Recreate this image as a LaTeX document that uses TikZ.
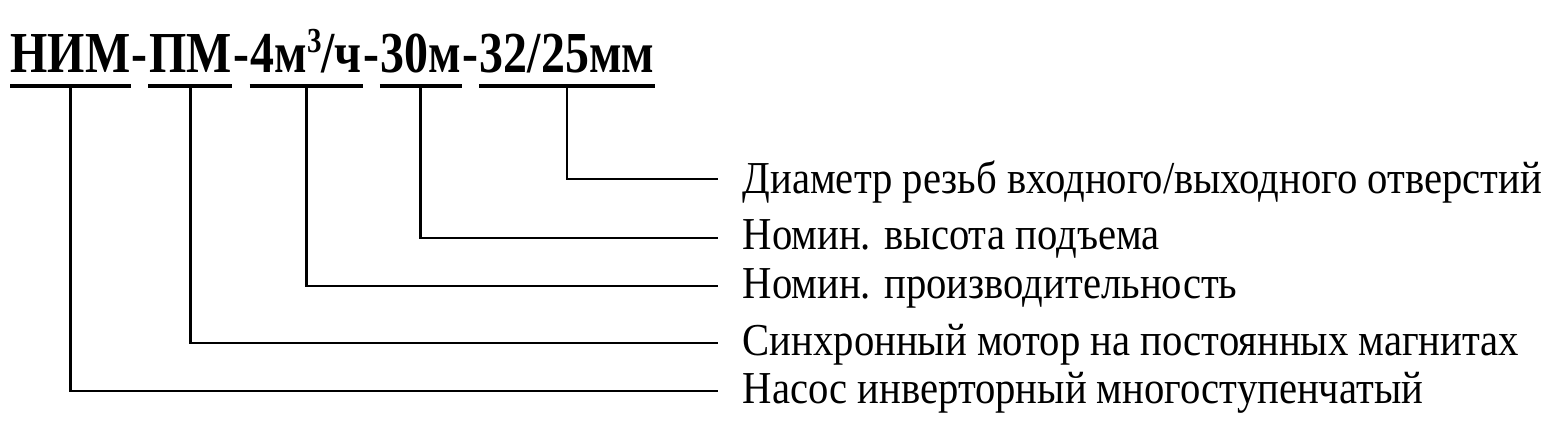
\documentclass[tikz,border=0pt]{standalone}
\usepackage{fontspec}
\setmainfont{Liberation Serif}
\newfontfamily\titlefont{Liberation Serif}[FakeStretch=0.826]
\newfontfamily\descfont{Liberation Serif}[FakeStretch=0.89]
\usetikzlibrary{calc, positioning}

\begin{document}
\begin{tikzpicture}[
  part/.style={inner sep=0pt, font=\titlefont\fontsize{16.5}{19}\selectfont\bfseries},
  desc/.style={anchor=base west, inner sep=0pt, font=\descfont\fontsize{13}{15}\selectfont},
  lead/.style={line width=0.8pt},
  uline/.style={line width=1pt}]
  \useasboundingbox (0,0) rectangle (15.63,4.33);
  % designation
  \node [part, anchor=base west] (nim) at (0.10,3.60) {НИМ};
  \node [part, base right=0pt of nim] (d1) {-};
  \node [part, base right=0pt of d1] (pm) {ПМ};
  \node [part, base right=0pt of pm] (d2) {-};
  \node [part, base right=0pt of d2] (flow) {4м\raisebox{0.36em}{\fontsize{10}{10}\selectfont 3}/ч};
  \node [part, base right=0pt of flow] (d3) {-};
  \node [part, base right=0pt of d3] (head) {30м};
  \node [part, base right=0pt of head] (d4) {-};
  \node [part, base right=0pt of d4] (dn) {32/25мм};
  % underlines
  \foreach \p in {nim, pm, flow, head, dn} {
    \draw [uline] (\p.base west) ++(0,-0.13) coordinate (\p-l) -- (\p.base east |- \p-l) coordinate (\p-r);
    \coordinate (\p-m) at ($(\p-l)!0.5!(\p-r)$);
  }
  % line ends
  \coordinate (dn-e) at (7.18,2.54);
  \coordinate (head-e) at (7.18,1.95);
  \coordinate (flow-e) at (7.18,1.47);
  \coordinate (pm-e) at (7.18,0.90);
  \coordinate (nim-e) at (7.18,0.42);
  % descriptions
  \node [desc] (dn-t) at ([shift={(0.24,-0.15)}]dn-e) {Диаметр резьб входного/выходного отверстий};
  \node [desc] (head-t) at ([shift={(0.24,-0.12)}]head-e) {Номин. высота подъема};
  \node [desc] (flow-t) at ([shift={(0.24,-0.13)}]flow-e) {Номин. производительность};
  \node [desc] (pm-t) at ([shift={(0.24,-0.13)}]pm-e) {Синхронный мотор на постоянных магнитах};
  \node [desc] (nim-t) at ([shift={(0.24,-0.13)}]nim-e) {Насос инверторный многоступенчатый};
  % leaders
  \foreach \p in {nim, pm, flow, head, dn}
    \draw [lead] (\p-m) |- (\p-e);
\end{tikzpicture}
\end{document}
